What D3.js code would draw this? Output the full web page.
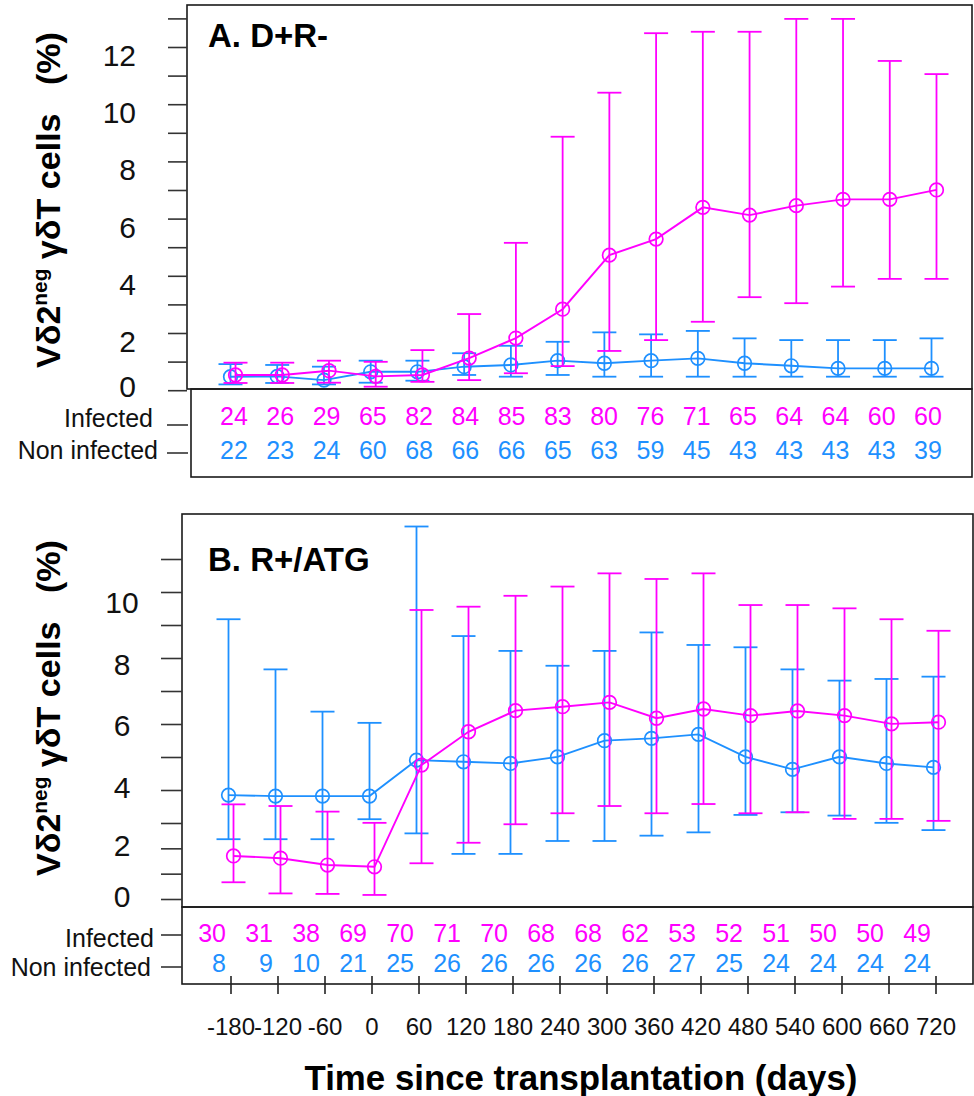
<!DOCTYPE html>
<html>
<head>
<meta charset="utf-8">
<script src="https://cdn.jsdelivr.net/npm/d3@7"></script>
<style>
  body { margin: 0; background: #fff; }
  svg { display: block; }
  text { font-family: "Liberation Sans", Arial, sans-serif; }
</style>
</head>
<body>
<svg id="chart" width="974" height="1096"></svg>
<script>
// ---- data ----
var days = [-180, -120, -60, 0, 60, 120, 180, 240, 300, 360, 420, 480, 540, 600, 660, 720];

// A. D+R-
var aInfMean = [0.55, 0.55, 0.7, 0.5, 0.55, 1.14, 1.84, 2.85, 4.74, 5.3, 6.41, 6.14, 6.47, 6.69, 6.69, 7.02];
var aInfLo   = [0.27, 0.27, 0.28, 0.14, 0.31, 0.37, 0.61, 0.86, 1.39, 1.77, 2.41, 3.27, 3.06, 3.64, 3.91, 3.91];
var aInfHi   = [0.98, 0.98, 1.05, 1.01, 1.42, 2.68, 5.17, 8.88, 10.42, 12.5, 12.55, 12.55, 13.0, 13.0, 11.53, 11.07];
var aNonMean = [0.49, 0.5, 0.37, 0.66, 0.66, 0.84, 0.9, 1.05, 0.96, 1.05, 1.13, 0.96, 0.87, 0.78, 0.78, 0.78];
var aNonLo   = [0.22, 0.27, 0.22, 0.28, 0.35, 0.55, 0.49, 0.55, 0.49, 0.49, 0.49, 0.49, 0.49, 0.49, 0.49, 0.49];
var aNonHi   = [0.93, 0.9, 0.84, 1.05, 1.05, 1.31, 1.57, 1.71, 2.04, 1.97, 2.09, 1.83, 1.77, 1.77, 1.77, 1.83];
var aInfN    = [24, 26, 29, 65, 82, 84, 85, 83, 80, 76, 71, 65, 64, 64, 60, 60];
var aNonN    = [22, 23, 24, 60, 68, 66, 66, 65, 63, 59, 45, 43, 43, 43, 43, 39];

// B. R+/ATG
var bInfMean = [1.72, 1.63, 1.36, 1.29, 4.77, 5.78, 6.42, 6.54, 6.67, 6.19, 6.47, 6.27, 6.41, 6.27, 6.02, 6.07];
var bInfLo   = [0.68, 0.24, 0.22, 0.18, 1.43, 2.24, 2.97, 3.31, 3.53, 3.31, 3.59, 3.31, 3.34, 3.14, 3.14, 3.08];
var bInfHi   = [3.58, 3.53, 3.36, 3.02, 9.47, 9.57, 9.9, 10.18, 10.58, 10.41, 10.58, 9.62, 9.62, 9.52, 9.19, 8.84];
var bNonMean = [3.86, 3.83, 3.83, 3.83, 4.92, 4.87, 4.82, 5.02, 5.51, 5.58, 5.7, 5.02, 4.64, 5.02, 4.82, 4.7];
var bNonLo   = [2.38, 2.38, 2.38, 3.13, 2.61, 1.8, 1.8, 2.31, 2.31, 2.52, 2.65, 3.26, 3.34, 3.24, 3.02, 2.74];
var bNonHi   = [9.19, 7.67, 6.39, 6.05, 12.0, 8.68, 8.23, 7.78, 8.23, 8.79, 8.41, 8.34, 7.67, 7.33, 7.38, 7.45];
var bInfN    = [30, 31, 38, 69, 70, 71, 70, 68, 68, 62, 53, 52, 51, 50, 50, 49];
var bNonN    = [8, 9, 10, 21, 25, 26, 26, 26, 26, 26, 27, 25, 24, 24, 24, 24];

var yTicksA = d3.range(0, 14);
var yLabelsA = [0, 2, 4, 6, 8, 10, 12];
var yTicksB = d3.range(0, 12);
var yLabelsB = [0, 2, 4, 6, 8, 10];
var rowNames = ["Infected", "Non infected"];

var MAGENTA = "#ff00ff", BLUE = "#1e90ff", INK = "#1a1a1a";

var svg = d3.select("#chart");

// common x scale (bottom axis of panel B)
var x = d3.scaleLinear().domain([-180, 720]).range([231, 936]);

var panels = [
    {
        title: "A. D+R-", titleY: 47,
        box: {left: 187, top: 5, right: 972, bottom: 389},
        table: {left: 191, bottom: 477},
        y: d3.scaleLinear().domain([0, 13]).range([390.7, 18.9]),
        x: d3.scaleLinear().domain([-180, 720]).range([233, 934]),
        ticks: yTicksA, labels: yLabelsA,
        tickX: [168, 187], labelX: 136, labelAnchor: "end",
        labelDy: function(v) { return v === 0 ? -4 : 8; },
        titleCenterY: 200,
        inf: {mean: aInfMean, lo: aInfLo, hi: aInfHi, n: aInfN},
        non: {mean: aNonMean, lo: aNonLo, hi: aNonHi, n: aNonN},
        tableX: d3.scaleLinear().domain([-180, 720]).range([234, 928]), tableAnchor: "middle", tableShift: 0,
        rowY: [416, 450], rowLabelY: [418, 450], rowLabelX: [153, 158], rowTickY: [425, 453], rowTickX: [167, 188]
    },
    {
        title: "B. R+/ATG", titleY: 571,
        box: {left: 182, top: 514, right: 973, bottom: 907},
        table: {left: 182, bottom: 984},
        y: d3.scaleLinear().domain([0, 3, 11]).range([899.5, 823.5, 559.5]),
        x: x,
        ticks: yTicksB, labels: yLabelsB,
        tickX: [161, 182], labelX: 122, labelAnchor: "middle",
        labelDy: function(v) { return -3 + Math.max(0, v - 4) * 2.2; },
        titleCenterY: 708,
        inf: {mean: bInfMean, lo: bInfLo, hi: bInfHi, n: bInfN},
        non: {mean: bNonMean, lo: bNonLo, hi: bNonHi, n: bNonN},
        tableX: x, tableAnchor: "end", tableShift: -5,
        rowY: [933, 963], rowLabelY: [938, 967], rowLabelX: [154, 151], rowTickY: [935, 967], rowTickX: [161, 182]
    }
];

panels.forEach(drawPanel);
drawXAxis();

function drawPanel(p) {
    var g = svg.append("g");
    var b = p.box;

    // plot frame and count table frame
    g.append("rect")
        .attr("x", b.left).attr("y", b.top)
        .attr("width", b.right - b.left).attr("height", b.bottom - b.top)
        .attr("fill", "none").attr("stroke", INK).attr("stroke-width", 1.6);
    g.append("rect")
        .attr("x", p.table.left).attr("y", b.bottom)
        .attr("width", b.right - p.table.left).attr("height", p.table.bottom - b.bottom)
        .attr("fill", "none").attr("stroke", INK).attr("stroke-width", 1.6);

    // y ticks
    g.selectAll(".ytick").data(p.ticks).enter()
        .append("line")
        .attr("x1", p.tickX[0]).attr("x2", p.tickX[1])
        .attr("y1", function(d) { return p.y(d); })
        .attr("y2", function(d) { return p.y(d); })
        .attr("stroke", "#333").attr("stroke-width", 1.6);

    g.selectAll(".ylabel").data(p.labels).enter()
        .append("text")
        .text(function(d) { return d; })
        .attr("x", p.labelX)
        .attr("y", function(d) { return p.y(d) + p.labelDy(d); })
        .attr("dy", "0.35em")
        .attr("text-anchor", p.labelAnchor)
        .attr("font-size", "30px")
        .attr("fill", "#111");

    // y title
    var yt = g.append("text")
        .attr("transform", "translate(60," + p.titleCenterY + ") rotate(-90)")
        .attr("text-anchor", "middle")
        .attr("font-weight", "bold")
        .attr("font-size", "36px")
        .attr("fill", "#000");
    yt.append("tspan").text("V\u03b42");
    yt.append("tspan").text("neg").attr("font-size", "22px").attr("dy", "-14");
    yt.append("tspan").text(" \u03b3\u03b4T cells\u00a0\u00a0\u00a0(%)").attr("dy", "14");
    fitText(yt, 336, 36);

    // panel title
    g.append("text")
        .text(p.title)
        .attr("x", 208).attr("y", p.titleY)
        .attr("font-weight", "bold")
        .attr("font-size", "33px")
        .attr("fill", "#000");

    // series: blue first, magenta on top
    drawSeries(g, p, p.non, BLUE, -2.5);
    drawSeries(g, p, p.inf, MAGENTA, 2.5);

    // count table
    [p.inf, p.non].forEach(function(s, r) {
        g.selectAll(".cnt" + r).data(s.n).enter()
            .append("text")
            .text(function(d) { return d; })
            .attr("x", function(d, i) { return p.tableX(days[i]) + p.tableShift; })
            .attr("y", p.rowY[r])
            .attr("dy", "0.35em")
            .attr("text-anchor", p.tableAnchor)
            .attr("font-size", "25px")
            .attr("fill", r === 0 ? MAGENTA : BLUE);
    });

    g.selectAll(".rowlab").data(rowNames).enter()
        .append("text")
        .text(function(d) { return d; })
        .attr("x", function(d, i) { return p.rowLabelX[i]; })
        .attr("y", function(d, i) { return p.rowLabelY[i]; })
        .attr("dy", "0.35em")
        .attr("text-anchor", "end")
        .attr("font-size", "25px")
        .attr("fill", "#111");

    g.selectAll(".rowtick").data(p.rowTickY).enter()
        .append("line")
        .attr("x1", p.rowTickX[0]).attr("x2", p.rowTickX[1])
        .attr("y1", function(d) { return d; }).attr("y2", function(d) { return d; })
        .attr("stroke", "#333").attr("stroke-width", 1.6);
}

function drawSeries(g, p, s, color, dx) {
    var px = function(i) { return p.x(days[i]) + dx; };
    var cap = 12;

    var bars = g.append("g").attr("stroke", color).attr("stroke-width", 1.8).attr("fill", "none");
    bars.selectAll(".bar").data(s.mean).enter()
        .append("line")
        .attr("x1", function(d, i) { return px(i); })
        .attr("x2", function(d, i) { return px(i); })
        .attr("y1", function(d, i) { return p.y(s.lo[i]); })
        .attr("y2", function(d, i) { return p.y(s.hi[i]); });
    ["lo", "hi"].forEach(function(k) {
        bars.selectAll(".cap" + k).data(s[k]).enter()
            .append("line")
            .attr("x1", function(d, i) { return px(i) - cap; })
            .attr("x2", function(d, i) { return px(i) + cap; })
            .attr("y1", function(d) { return p.y(d); })
            .attr("y2", function(d) { return p.y(d); });
    });

    var line = d3.line()
        .x(function(d, i) { return px(i); })
        .y(function(d) { return p.y(d); });
    g.append("path")
        .datum(s.mean)
        .attr("d", line)
        .attr("fill", "none")
        .attr("stroke", color)
        .attr("stroke-width", 1.9);

    g.selectAll(".pt").data(s.mean).enter()
        .append("circle")
        .attr("cx", function(d, i) { return px(i); })
        .attr("cy", function(d) { return p.y(d); })
        .attr("r", 6.8)
        .attr("fill", "none")
        .attr("stroke", color)
        .attr("stroke-width", 1.7);
}

function drawXAxis() {
    var g = svg.append("g");
    g.selectAll(".xtick").data(days).enter()
        .append("line")
        .attr("x1", function(d) { return x(d); })
        .attr("x2", function(d) { return x(d); })
        .attr("y1", 976).attr("y2", 994)
        .attr("stroke", "#222").attr("stroke-width", 1.6);

    g.selectAll(".xlabel").data(days).enter()
        .append("text")
        .text(function(d) { return d; })
        .attr("x", function(d) { return x(d); })
        .attr("y", 1027)
        .attr("dy", "0.35em")
        .attr("text-anchor", "middle")
        .attr("font-size", "24px")
        .attr("fill", "#111");

    var t = g.append("text")
        .text("Time since transplantation (days)")
        .attr("x", 581).attr("y", 1090)
        .attr("text-anchor", "middle")
        .attr("font-weight", "bold")
        .attr("font-size", "34px")
        .attr("fill", "#000");
    fitText(t, 553, 34);
}

// scale font so the text spans the measured length
function fitText(sel, target, size) {
    var len = sel.node().getComputedTextLength();
    if (len > 0) {
        var k = target / len;
        sel.attr("font-size", (size * k).toFixed(2) + "px");
        sel.selectAll("tspan").each(function() {
            var ts = d3.select(this);
            var fs = ts.attr("font-size");
            if (fs) ts.attr("font-size", (parseFloat(fs) * k).toFixed(2) + "px");
            var dy = ts.attr("dy");
            if (dy) ts.attr("dy", (parseFloat(dy) * k).toFixed(2));
        });
    }
}
</script>
</body>
</html>
